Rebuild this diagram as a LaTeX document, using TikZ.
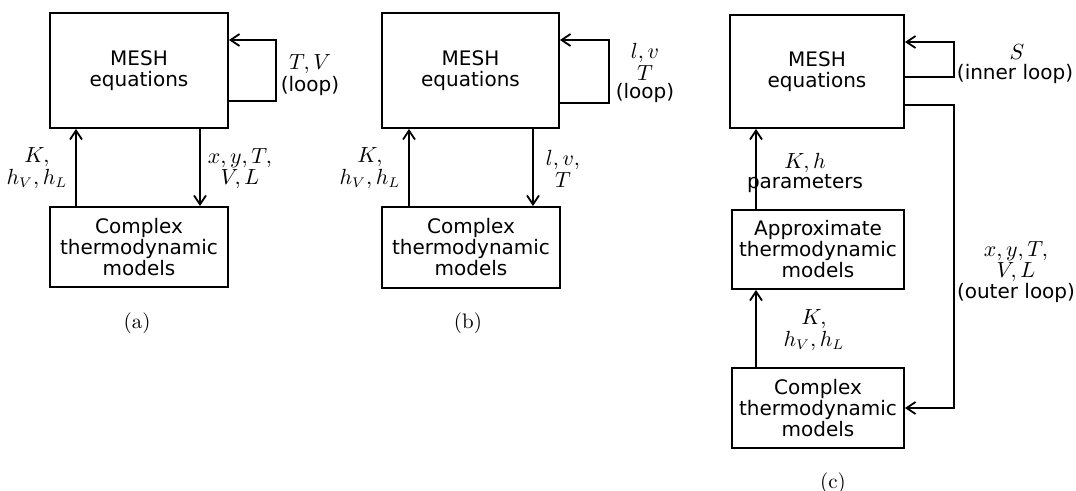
\documentclass[tikz,border=0pt]{standalone}
\usepackage{fontspec}
\setsansfont{DejaVu Sans}
\usetikzlibrary{arrows.meta}

\begin{document}
\begin{tikzpicture}[x=0.5pt, y=-0.5pt, line width=0.9pt,
    box/.style={draw, font=\sffamily\fontsize{10}{10.5}\selectfont, align=center, inner sep=0pt},
    arr/.style={-{Straight Barb[length=4.5pt,width=6pt]}},
    lbl/.style={align=center, font=\fontsize{10.5}{9}\selectfont, inner sep=0pt}]
\useasboundingbox (0,0) rectangle (1076,491);

% (a) one loop
\node[box, minimum width=89pt, minimum height=57.5pt] (meshA) at (139,70.5) {MESH\\equations};
\node[box, minimum width=89pt, minimum height=40pt] (cmpA) at (139,247) {Complex\\thermodynamic\\models};
\coordinate (kA) at (76,0);
\coordinate (xA) at (200,0);
\coordinate (lpA) at (276,101);
\coordinate (lpAt) at (276,40);
\draw[arr] (cmpA.north -| kA) -- (meshA.south -| kA);
\draw[arr] (meshA.south -| xA) -- (cmpA.north -| xA);
\draw[arr] (meshA.east |- lpA) -- (lpA) -- (lpAt) -- (meshA.east |- lpAt);
\node[lbl] (tvA) at (310,75) {$T, V$\\\sffamily\fontsize{10}{10}\selectfont(loop)};
\node[lbl] (kpA) at (37,168) {$K,$\\$h_V, h_L$};
\node[lbl] (xyA) at (240,169) {$x, y, T,$\\$V, L$};
\node[lbl] (capA) at (137,323) {(a)};

% (b) one loop
\node[box, minimum width=88.5pt, minimum height=57.5pt] (meshB) at (470.5,70.5) {MESH\\equations};
\node[box, minimum width=89pt, minimum height=40.5pt] (cmpB) at (471,247.5) {Complex\\thermodynamic\\models};
\coordinate (kB) at (409,0);
\coordinate (xB) at (533,0);
\coordinate (lpB) at (609,103);
\coordinate (lpBt) at (609,40);
\draw[arr] (cmpB.north -| kB) -- (meshB.south -| kB);
\draw[arr] (meshB.south -| xB) -- (cmpB.north -| xB);
\draw[arr] (meshB.east |- lpB) -- (lpB) -- (lpBt) -- (meshB.east |- lpBt);
\node[lbl] (tvB) at (645,73) {$l, v$\\$T$\\\sffamily\fontsize{10}{10}\selectfont(loop)};
\node[lbl] (kpB) at (370,168) {$K,$\\$h_V, h_L$};
\node[lbl] (xyB) at (563,169) {$l, v,$\\$T$};
\node[lbl] (capB) at (468,323) {(b)};

% (c) inner and outer loops
\node[box, minimum width=87pt, minimum height=56.5pt] (meshC) at (817,71.5) {MESH\\equations};
\node[box, minimum width=86pt, minimum height=39.5pt] (apxC) at (818,249.5) {Approximate\\thermodynamic\\models};
\node[box, minimum width=86pt, minimum height=40pt] (cmpC) at (818,408) {Complex\\thermodynamic\\models};
\coordinate (kC) at (756,0);
\coordinate (ilC) at (954,77);
\coordinate (ilCt) at (954,42);
\coordinate (olC) at (954,105);
\draw[arr] (apxC.north -| kC) -- (meshC.south -| kC);
\draw[arr] (cmpC.north -| kC) -- (apxC.south -| kC);
\draw[arr] (meshC.east |- ilC) -- (ilC) -- (ilCt) -- (meshC.east |- ilCt);
\draw[arr] (meshC.east |- olC) -- (olC) |- (cmpC.east);
\node[lbl] (sC) at (1017,52) {$S$};
\node[lbl] (ilbC) at (1015,74) {\sffamily\fontsize{10}{10}\selectfont(inner loop)};
\node[lbl] (khC) at (805,173) {$K, h$\\\sffamily\fontsize{10}{10}\selectfont parameters};
\node[lbl] (kpC) at (814,330) {$K,$\\$h_V, h_L$};
\node[lbl] (xyC) at (1016,272) {$x, y, T,$\\$V, L$\\\sffamily\fontsize{10}{10}\selectfont(outer loop)};
\node[lbl] (capC) at (833,483) {(c)};
\end{tikzpicture}
\end{document}
